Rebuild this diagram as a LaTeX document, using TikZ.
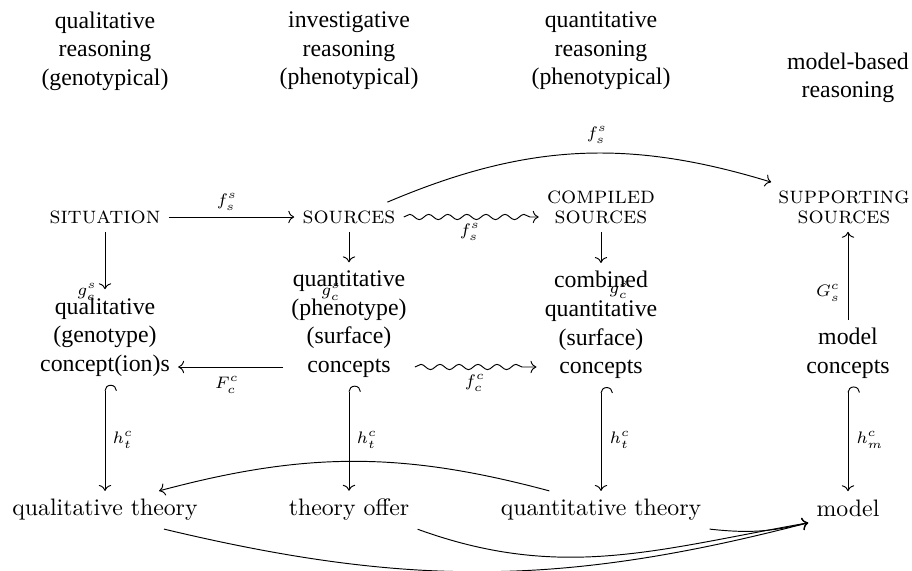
\documentclass[tikz,border=0pt]{standalone}
\usepackage{fontspec}
\newfontfamily\tms{Liberation Serif}
\usetikzlibrary{arrows.meta,decorations.pathmorphing}
\begin{document}
\begin{tikzpicture}[x=0.42pt,y=-0.42pt,
  every node/.style={inner sep=3.33pt},
  tlab/.style={font=\tms, align=center},
  sc/.style={font=\scshape, align=center},
  sctwo/.style={font={\scshape\fontsize{10}{8.4}\selectfont}, align=center},
  lbl/.style={font=\scriptsize, inner sep=0pt},
  arr/.style={-{To}},
  hk/.style={{Hooks[right,width=10pt,length=2.5pt]}-{To}},
  wav/.style={-{To}, decorate, decoration={snake, amplitude=1.1pt, segment length=8pt, post length=3pt}},
]
\useasboundingbox (0,0) rectangle (912,571);

% top labels
\node[tlab] (t1) at (105,51) {qualitative\\reasoning\\(genotypical)};
\node[tlab] (t2) at (349,51) {investigative\\reasoning\\(phenotypical)};
\node[tlab] (t3) at (601,51) {quantitative\\reasoning\\(phenotypical)};
\node[tlab] (t4) at (848,78) {model-based\\reasoning};

% sources row
\node[sc] (sit) at (105,217) {situation};
\node[sc] (src) at (349,217) {sources};
\node[sctwo] (csrc) at (601,207) {compiled\\sources};
\node[sctwo] (ssrc) at (844,207) {supporting\\sources};

% concepts row
\node[tlab] (c1) at (105,337) {qualitative\\(genotype)\\concept(ion)s};
\node[tlab] (c2) at (349,324) {quantitative\\(phenotype)\\(surface)\\concepts};
\node[tlab] (c3) at (601,325) {combined\\quantitative\\(surface)\\concepts};
\node[tlab] (c4) at (848,353) {model\\concepts};

% theory row
\node (ql) at (105,510) {qualitative theory};
\node (tof) at (349,510) {theory offer};
\node (qt) at (601,510) {quantitative theory};
\node (mo) at (848,508) {model};

% labels
\node[lbl] (l1) at (227,202) {$f^s_s$};
\node[lbl] (l2) at (597,135) {$f^s_s$};
\node[lbl] (l3) at (470,232) {$f^s_s$};
\node[lbl] (l4) at (87,292) {$g^s_c$};
\node[lbl] (l5) at (331,292) {$g^s_c$};
\node[lbl] (l6) at (619,290) {$g^s_c$};
\node[lbl] (l7) at (227,385) {$F^c_c$};
\node[lbl] (l8) at (475,383) {$f^c_c$};
\node[lbl] (l9) at (828,293) {$G^c_s$};
\node[lbl] (l10) at (123,440) {$h^c_t$};
\node[lbl] (l11) at (367,440) {$h^c_t$};
\node[lbl] (l12) at (620,440) {$h^c_t$};
\node[lbl] (l13) at (870,440) {$h^c_m$};

% connectors
\draw[arr] (sit) -- (src);
\draw[arr] (src) to[bend left=20] (ssrc);
\draw[wav] (src.east) -- (src.east -| csrc.west);
\draw[arr] (sit) -- (c1);
\draw[arr] (src) -- (c2);
\draw[arr] (csrc) -- (c3);
\draw[arr] (c4.north) -- (c4.north |- ssrc.south);
\coordinate (rowc) at (0,367);
\draw[arr] (c2.west |- rowc) -- (c1.east |- rowc);
\draw[wav] (c2.east |- rowc) -- (c3.west |- rowc);
\draw[hk] (c1) -- (ql);
\draw[hk] (c2) -- (tof);
\draw[hk] (c3) -- (qt);
\draw[hk] (c4) -- (mo);

\coordinate (mtip) at ([shift={(0,-2)}]mo.south west);
\draw[arr] ([shift={(57,0)}]qt.north west) to[bend right=15] ([shift={(-47,0)}]ql.north east);
\draw[arr] (qt.south east) to[bend right=10] (mtip);
\draw[arr] (tof.south east) to[out=-20,in=190] (mtip);
\draw[arr] ([shift={(59,0)}]ql.south) to[bend right=14] (mtip);
\end{tikzpicture}
\end{document}
